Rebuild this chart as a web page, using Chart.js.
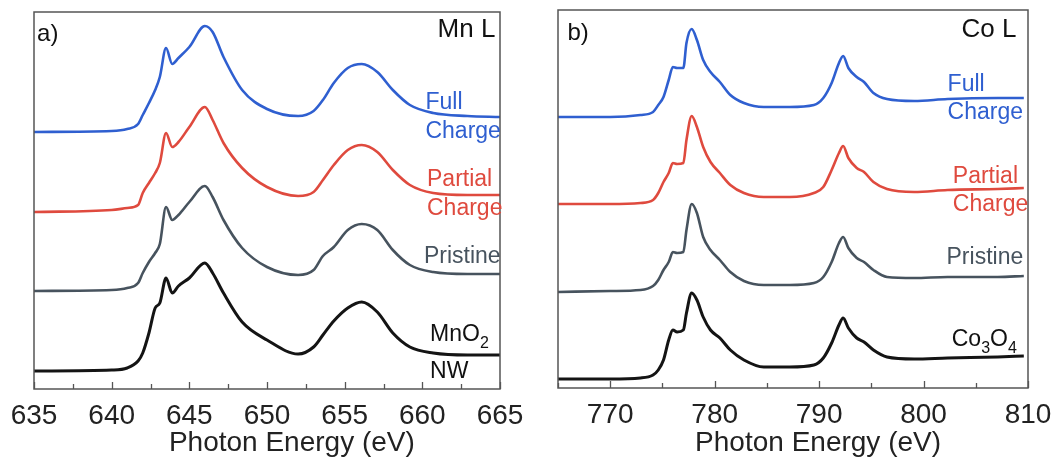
<!DOCTYPE html>
<html>
<head>
<meta charset="utf-8">
<script src="https://cdn.jsdelivr.net/npm/chart.js@4/dist/chart.umd.min.js"></script>
<style>
  html, body { margin: 0; padding: 0; background: #fff; }
  #wrap { position: relative; width: 1060px; height: 459px; overflow: hidden; }
  .panel { position: absolute; top: 0; width: 530px; height: 459px; }
</style>
</head>
<body>
<div id="wrap">
  <div class="panel" style="left:0"><canvas id="mnChart"></canvas></div>
  <div class="panel" style="left:530px"><canvas id="coChart"></canvas></div>
</div>
<script>
// ---- Mn L-edge spectra (photon energy in eV, intensity in arbitrary units, stacked) ----
const mnEnergy = [635, 640, 641, 641.7, 642, 642.4, 642.8, 643.1, 643.5, 643.9, 644.3, 645, 646, 646.5,
  647.2, 648.4, 650, 652, 653, 653.6, 654.3, 655.2, 656.1, 657.1, 658.1, 659.2, 660.7, 662.9, 665];
const mnFullCharge = [257, 258, 260, 265, 274, 286, 299, 312, 341, 325, 331, 342, 363, 357,
  332, 299, 280, 273, 278, 289, 306, 321, 325, 317, 299, 284, 276, 273, 272];
const mnPartialCharge = [177, 179, 181, 184, 196, 206, 216, 226, 256, 242, 247, 262, 282, 269,
  246, 221, 202, 193, 197, 209, 224, 239, 244, 237, 219, 204, 196, 194, 194];
const mnPristine = [98, 99, 101, 106, 116, 127, 136, 145, 182, 169, 174, 187, 203, 192,
  169, 141, 122, 114, 119, 133, 142, 159, 165, 159, 139, 124, 117, 115, 115];
const mnO2Nanowire = [18, 19, 21, 28, 36, 56, 81, 86, 111, 96, 103, 111, 126, 116,
  96, 67, 49, 35, 42, 54, 68, 81, 87, 77, 56, 42, 36, 34, 34];

// ---- Co L-edge spectra ----
const coEnergy = [765, 770, 772.9, 774.1, 774.6, 775.1, 775.6, 776, 776.4, 777, 777.3, 777.8, 778.3,
  778.9, 779.6, 780.5, 781.5, 782.8, 784.7, 787.2, 789.5, 790.4, 791.2, 791.9, 792.3, 792.8,
  793.6, 794.3, 795.2, 796.5, 799.1, 802.3, 807.1, 809.6];
const coFullCharge = [271, 271, 273, 276, 283, 291, 308, 321, 320, 320, 345, 359, 348,
  328, 316, 306, 293, 285, 281, 281, 283, 290, 305, 325, 332, 320,
  311, 306, 295, 289, 287, 289, 290, 290];
const coPartialCharge = [184, 184, 185, 188, 195, 206, 215, 225, 224, 225, 248, 272, 261,
  241, 226, 215, 203, 195, 191, 191, 195, 201, 218, 235, 242, 230,
  220, 216, 206, 199, 196, 198, 199, 200];
const coPristine = [96, 97, 98, 102, 108, 118, 126, 136, 135, 136, 158, 184, 175,
  151, 138, 128, 116, 107, 103, 103, 105, 111, 126, 145, 151, 140,
  130, 126, 118, 111, 110, 111, 111, 112];
const coCo3O4 = [9, 9, 10, 13, 18, 28, 48, 58, 56, 58, 75, 95, 88,
  71, 58, 50, 38, 28, 21, 21, 23, 30, 45, 63, 70, 60,
  50, 46, 38, 31, 29, 30, 31, 32];

// ---- axis ranges and tick labels ----
const mnRange = [635, 665];
const coRange = [765, 810];
const mnTickLabels = [635, 640, 645, 650, 655, 660, 665];
const coTickLabels = [770, 780, 790, 800, 810];
const axisTitle = 'Photon Energy (eV)';

const BLUE = '#2f5fd0';
const RED = '#df4a3e';
const SLATE = '#47535e';
const BLACK = '#141414';
const FONT = "'Liberation Sans', Arial, Helvetica, sans-serif";

// curve captions, placed in data coordinates; parts with sub=true are subscripts
const mnCaptions = [
  { x: 635.2, y: 355, align: 'left', size: 24, color: '#111', parts: [{ t: 'a)' }] },
  { x: 664.7, y: 359, align: 'right', size: 26, color: '#111', parts: [{ t: 'Mn L' }] },
  { x: 660.2, y: 286, align: 'left', size: 23, color: BLUE, parts: [{ t: 'Full' }] },
  { x: 660.2, y: 257, align: 'left', size: 23, color: BLUE, parts: [{ t: 'Charge' }] },
  { x: 660.3, y: 209, align: 'left', size: 23, color: RED, parts: [{ t: 'Partial' }] },
  { x: 660.3, y: 180, align: 'left', size: 23, color: RED, parts: [{ t: 'Charge' }] },
  { x: 660.1, y: 132, align: 'left', size: 23, color: SLATE, parts: [{ t: 'Pristine' }] },
  { x: 660.5, y: 54, align: 'left', size: 23, color: '#111', parts: [{ t: 'MnO' }, { t: '2', sub: true }] },
  { x: 660.5, y: 17, align: 'left', size: 23, color: '#111', parts: [{ t: 'NW' }] }
];
const coCaptions = [
  { x: 765.9, y: 355, align: 'left', size: 24, color: '#111', parts: [{ t: 'b)' }] },
  { x: 808.9, y: 358, align: 'right', size: 26, color: '#111', parts: [{ t: 'Co L' }] },
  { x: 802.3, y: 303, align: 'left', size: 23, color: BLUE, parts: [{ t: 'Full' }] },
  { x: 802.3, y: 275, align: 'left', size: 23, color: BLUE, parts: [{ t: 'Charge' }] },
  { x: 802.8, y: 211, align: 'left', size: 23, color: RED, parts: [{ t: 'Partial' }] },
  { x: 802.8, y: 183, align: 'left', size: 23, color: RED, parts: [{ t: 'Charge' }] },
  { x: 802.2, y: 130, align: 'left', size: 23, color: SLATE, parts: [{ t: 'Pristine' }] },
  { x: 802.7, y: 48, align: 'left', size: 23, color: '#111', parts: [{ t: 'Co' }, { t: '3', sub: true }, { t: 'O' }, { t: '4', sub: true }] }
];

function points(xs, ys) {
  return xs.map((x, i) => ({ x: x, y: ys[i] }));
}

function series(xs, ys, color, width) {
  return {
    data: points(xs, ys),
    borderColor: color,
    borderWidth: width,
    pointRadius: 0,
    fill: false,
    cubicInterpolationMode: 'monotone'
  };
}

// closed frame around the plot area plus inward-pointing x ticks
const frameAndTicks = {
  id: 'frameAndTicks',
  afterDatasetsDraw(chart) {
    const { ctx, chartArea: a, scales } = chart;
    const xs = scales.x;
    const labelled = chart.options.plugins.frameAndTicks.labelled;
    ctx.save();
    ctx.strokeStyle = '#555';
    ctx.lineWidth = 1.3;
    ctx.beginPath();
    xs.ticks.forEach(t => {
      const px = Math.round(xs.getPixelForValue(t.value)) + 0.5;
      const len = labelled.includes(t.value) ? 7 : 5;
      ctx.moveTo(px, a.bottom);
      ctx.lineTo(px, a.bottom - len);
    });
    ctx.stroke();
    ctx.lineWidth = 1.5;
    ctx.strokeRect(a.left, a.top, a.right - a.left, a.bottom - a.top);
    ctx.restore();
  }
};

// curve captions and the x-axis title (title centred on a given energy)
const captions = {
  id: 'captions',
  afterDatasetsDraw(chart) {
    const { ctx, scales } = chart;
    const opts = chart.options.plugins.captions;
    const list = opts.items || [];
    ctx.save();
    ctx.textBaseline = 'middle';
    list.forEach(c => {
      const px = scales.x.getPixelForValue(c.x);
      const py = scales.y.getPixelForValue(c.y);
      const main = c.size + 'px ' + FONT;
      const small = Math.round(c.size * 0.68) + 'px ' + FONT;
      let total = 0;
      c.parts.forEach(p => { ctx.font = p.sub ? small : main; total += ctx.measureText(p.t).width; });
      let cx = c.align === 'right' ? px - total : px;
      ctx.fillStyle = c.color;
      ctx.textAlign = 'left';
      c.parts.forEach(p => {
        ctx.font = p.sub ? small : main;
        ctx.fillText(p.t, cx, p.sub ? py + c.size * 0.36 : py);
        cx += ctx.measureText(p.t).width;
      });
    });
    // axis title, below the tick labels
    ctx.font = '28px ' + FONT;
    ctx.fillStyle = '#222';
    ctx.textAlign = 'center';
    ctx.textBaseline = 'alphabetic';
    ctx.fillText(opts.title, scales.x.getPixelForValue(opts.titleAt), scales.x.bottom - 8);
    ctx.restore();
  }
};

function makeChart(id, energies, sets, range, step, labelled, pad, axisHeight, yMax, captionItems, titleAt) {
  return new Chart(document.getElementById(id), {
    type: 'line',
    data: {
      datasets: sets.map(s => series(energies, s[0], s[1], s[2]))
    },
    options: {
      responsive: true,
      maintainAspectRatio: false,
      animation: false,
      events: [],
      layout: { padding: pad },
      plugins: {
        legend: { display: false },
        tooltip: { enabled: false },
        frameAndTicks: { labelled: labelled },
        captions: { items: captionItems, title: axisTitle, titleAt: titleAt }
      },
      scales: {
        x: {
          type: 'linear',
          min: range[0],
          max: range[1],
          grid: { display: false },
          border: { display: false },
          ticks: {
            stepSize: step,
            autoSkip: false,
            maxRotation: 0,
            padding: 2,
            color: '#222',
            font: { family: FONT, size: 28 },
            callback: v => (labelled.includes(v) ? String(v) : '')
          },
          title: { display: false },
          afterFit: s => { s.height = axisHeight; }
        },
        y: {
          display: false,
          min: 0,
          max: yMax
        }
      }
    },
    plugins: [frameAndTicks, captions]
  });
}

makeChart('mnChart', mnEnergy, [
  [mnFullCharge, BLUE, 2.6],
  [mnPartialCharge, RED, 2.6],
  [mnPristine, SLATE, 2.6],
  [mnO2Nanowire, BLACK, 3]
], mnRange, 2.5, mnTickLabels, { left: 34, right: 30, top: 12, bottom: 0 }, 70, 377, mnCaptions, 651.6);

makeChart('coChart', coEnergy, [
  [coFullCharge, BLUE, 2.6],
  [coPartialCharge, RED, 2.6],
  [coPristine, SLATE, 2.6],
  [coCo3O4, BLACK, 3]
], coRange, 5, coTickLabels, { left: 28, right: 32, top: 10, bottom: 0 }, 71, 378, coCaptions, 789.9);
</script>
</body>
</html>
